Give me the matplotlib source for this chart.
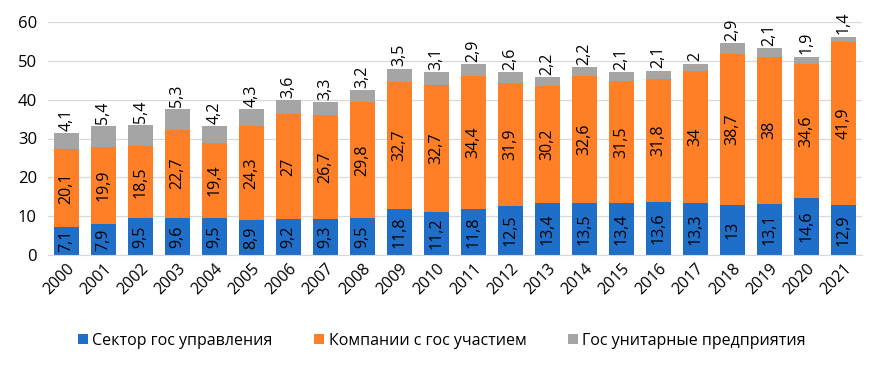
import matplotlib
matplotlib.use("Agg")
import matplotlib.pyplot as plt
import numpy as np

years = [str(y) for y in range(2000, 2022)]
sector = [7.1, 7.9, 9.5, 9.6, 9.5, 8.9, 9.2, 9.3, 9.5, 11.8, 11.2, 11.8, 12.5, 13.4, 13.5, 13.4, 13.6, 13.3, 13.0, 13.1, 14.6, 12.9]
companies = [20.1, 19.9, 18.5, 22.7, 19.4, 24.3, 27.0, 26.7, 29.8, 32.7, 32.7, 34.4, 31.9, 30.2, 32.6, 31.5, 31.8, 34.0, 38.7, 38.0, 34.6, 41.9]
unitary = [4.1, 5.4, 5.4, 5.3, 4.2, 4.3, 3.6, 3.3, 3.2, 3.5, 3.1, 2.9, 2.6, 2.2, 2.2, 2.1, 2.1, 2.0, 2.9, 2.1, 1.9, 1.4]
series_names = ["Сектор гос управления", "Компании с гос участием", "Гос унитарные предприятия"]
colors = ["#1F6FC8", "#FF7F27", "#A5A5A5"]

plt.rcParams['font.family'] = ['Open Sans', 'DejaVu Sans']

fig = plt.figure(figsize=(8.84, 3.71), dpi=100)
ax = fig.add_axes([48/884, 1-255/371, (862-48)/884, (255-22)/371])

x = np.arange(len(years))
w = 0.68
sector = np.array(sector); companies = np.array(companies); unitary = np.array(unitary)
b1 = ax.bar(x, sector, w, color=colors[0], label=series_names[0], zorder=2)
b2 = ax.bar(x, companies, w, bottom=sector, color=colors[1], label=series_names[1], zorder=2)
b3 = ax.bar(x, unitary, w, bottom=sector+companies, color=colors[2], label=series_names[2], zorder=2)

def fmt(v):
    s = ("%.1f" % v).rstrip('0').rstrip('.')
    return s.replace('.', ',')

fs = 11.5
for i in range(len(x)):
    ax.text(x[i], sector[i]/2, fmt(sector[i]), rotation=90, ha='center', va='center', fontsize=fs, color='black', zorder=3)
    ax.text(x[i], sector[i]+companies[i]/2, fmt(companies[i]), rotation=90, ha='center', va='center', fontsize=fs, color='black', zorder=3)
    ax.text(x[i], sector[i]+companies[i]+unitary[i]+0.6, fmt(unitary[i]), rotation=90, ha='center', va='bottom', fontsize=fs, color='black', zorder=3)

ax.set_xlim(-0.5, len(x)-0.5)
ax.set_ylim(0, 60)
ax.set_yticks(range(0, 61, 10))
ax.set_xticks(x)
ax.set_xticklabels(years, rotation=45, ha='right', rotation_mode='anchor', fontsize=11.5)
ax.tick_params(axis='y', labelsize=12, length=0, pad=8)
ax.tick_params(axis='x', length=0, pad=4)
ax.grid(axis='y', color='#D9D9D9', linewidth=0.9, zorder=0)
for s in ['top', 'right', 'left']:
    ax.spines[s].set_visible(False)
ax.spines['bottom'].set_color('#D9D9D9')

fig.legend(handles=[b1, b2, b3], labels=series_names, loc='center', bbox_to_anchor=(0.5, 1-341/371), ncol=3,
           frameon=False, fontsize=11.5, handlelength=0.6, handleheight=0.6, handletextpad=0.3, columnspacing=2.6)

fig.savefig('out.png', dpi=100)
